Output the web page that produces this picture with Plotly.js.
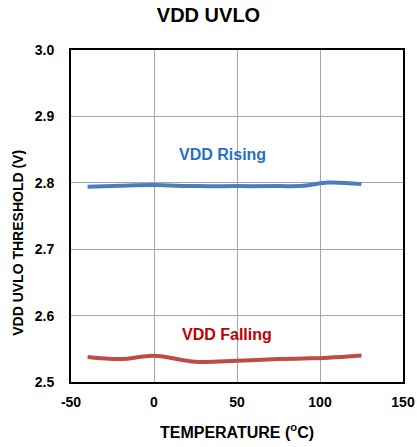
<!DOCTYPE html>
<html>
<head>
<meta charset="utf-8">
<script src="https://cdn.plot.ly/plotly-3.0.1.min.js"></script>
<style>html,body{margin:0;padding:0;background:#fff;}#chart{width:417px;height:447px;}</style>
</head>
<body>
<div id="chart"></div>
<script>
var temps = [-40, -20, 0, 25, 50, 75, 90, 105, 125];
var risingV = [2.794, 2.7955, 2.7965, 2.795, 2.795, 2.795, 2.7955, 2.8005, 2.798];
var fallingV = [2.5375, 2.5345, 2.5395, 2.5305, 2.532, 2.5345, 2.5355, 2.5367, 2.540];
var xTicks = [-50, 0, 50, 100, 150];
var yTicks = [2.5, 2.6, 2.7, 2.8, 2.9, 3.0];

var font = 'Liberation Sans, Arial, sans-serif';
var data = [
  {x: temps, y: risingV, mode: 'lines', line: {color: '#4a7ebb', width: 4, shape: 'spline'}, hoverinfo: 'none'},
  {x: temps, y: fallingV, mode: 'lines', line: {color: '#be4b48', width: 4, shape: 'spline'}, hoverinfo: 'none'}
];
var layout = {
  width: 417, height: 447,
  margin: {l: 71, r: 14, t: 50, b: 65},
  showlegend: false,
  paper_bgcolor: '#fff', plot_bgcolor: '#fff',
  font: {family: font, color: '#000'},
  title: {text: '<b>VDD UVLO</b>', font: {size: 20, family: font, color: '#000'}, x: 0.5, xanchor: 'center', y: 0.966, yanchor: 'middle'},
  xaxis: {
    range: [-50, 150], tickvals: xTicks, ticktext: xTicks.map(String),
    showgrid: true, gridcolor: '#a6a6a6', gridwidth: 1,
    showline: true, linecolor: '#000', linewidth: 2, mirror: true,
    ticks: '', zeroline: false, ticklabelstandoff: 6,
    tickfont: {size: 14, family: font, color: '#000', weight: 'bold'},
    title: {text: '<b>TEMPERATURE (<sup>o</sup>C)</b>', font: {size: 16, family: font, color: '#000'}, standoff: 18}
  },
  yaxis: {
    range: [2.5, 3.0], tickvals: yTicks, ticktext: yTicks.map(function(v){return v.toFixed(1);}),
    showgrid: true, gridcolor: '#a6a6a6', gridwidth: 1,
    showline: true, linecolor: '#000', linewidth: 2, mirror: true,
    ticks: '', zeroline: false, ticklabelstandoff: 12,
    tickfont: {size: 14, family: font, color: '#000', weight: 'bold'}
  },
  annotations: [
    {x: -0.16, y: 0.419, xref: 'paper', yref: 'paper', text: '<b>VDD UVLO THRESHOLD (V)</b>', textangle: -90, showarrow: false, xanchor: 'center', yanchor: 'middle', font: {size: 14, family: font, color: '#000'}},
    {x: 41.5, y: 2.843, xref: 'x', yref: 'y', text: '<b>VDD Rising</b>', showarrow: false, font: {size: 16, family: font, color: '#1f72c4'}},
    {x: 44, y: 2.571, xref: 'x', yref: 'y', text: '<b>VDD Falling</b>', showarrow: false, font: {size: 16, family: font, color: '#c00000'}}
  ]
};
Plotly.newPlot('chart', data, layout, {displayModeBar: false, staticPlot: true});
</script>
</body>
</html>
